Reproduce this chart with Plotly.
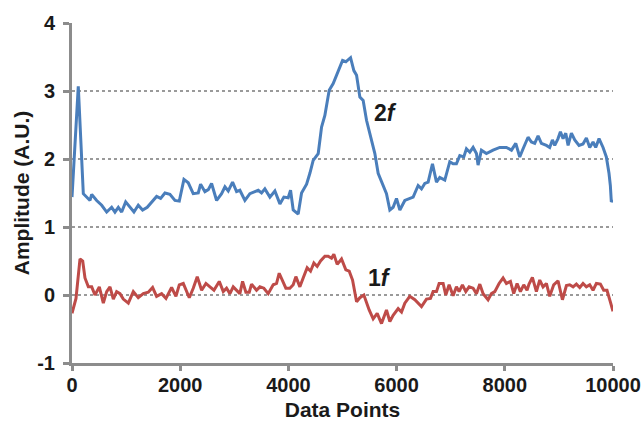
import plotly.graph_objects as go

# 2f signal (blue)
x_2f = [0, 116, 209, 271, 333, 364, 456, 549, 641, 733, 794, 856, 918, 992, 1071, 1145, 1225, 1305,
        1391, 1472, 1564, 1638, 1718, 1810, 1903, 1983, 2069, 2149, 2241, 2334, 2377, 2457, 2519,
        2580, 2673, 2765, 2827, 2888, 2968, 3042, 3103, 3196, 3288, 3381, 3442, 3504, 3565, 3658,
        3750, 3843, 3916, 3996, 4040, 4089, 4138, 4181, 4243, 4336, 4397, 4458, 4551, 4613, 4674,
        4754, 4828, 4890, 4951, 5001, 5062, 5105, 5149, 5210, 5260, 5321, 5382, 5444, 5536, 5598,
        5659, 5751, 5813, 5875, 5936, 5998, 6060, 6152, 6244, 6306, 6398, 6460, 6521, 6583, 6663,
        6737, 6798, 6891, 6983, 7045, 7106, 7168, 7242, 7291, 7353, 7414, 7476, 7506, 7568, 7660,
        7783, 7907, 8030, 8123, 8203, 8276, 8338, 8430, 8492, 8553, 8615, 8676, 8769, 8830, 8880,
        8923, 8984, 9028, 9077, 9127, 9170, 9231, 9293, 9372, 9446, 9508, 9570, 9631, 9680, 9742,
        9816, 9877, 9926, 9951, 9969, 10000]
y_2f = [1.44, 3.07, 1.49, 1.44, 1.39, 1.48, 1.39, 1.32, 1.22, 1.29, 1.22, 1.29, 1.22, 1.37, 1.29, 1.22,
        1.32, 1.25, 1.29, 1.37, 1.45, 1.42, 1.50, 1.48, 1.39, 1.38, 1.70, 1.65, 1.49, 1.50, 1.63,
        1.52, 1.55, 1.64, 1.39, 1.49, 1.59, 1.53, 1.66, 1.52, 1.54, 1.39, 1.49, 1.52, 1.54, 1.50,
        1.56, 1.44, 1.53, 1.34, 1.44, 1.43, 1.54, 1.25, 1.22, 1.19, 1.50, 1.63, 1.79, 1.98, 2.08,
        2.47, 2.64, 3.01, 3.11, 3.23, 3.35, 3.45, 3.43, 3.46, 3.49, 3.30, 3.23, 2.91, 2.86, 2.57,
        2.28, 2.08, 1.79, 1.61, 1.49, 1.25, 1.29, 1.42, 1.25, 1.39, 1.42, 1.44, 1.61, 1.56, 1.64,
        1.66, 1.93, 1.66, 1.73, 1.69, 1.96, 1.93, 1.93, 2.05, 2.03, 2.15, 2.10, 2.17, 2.08, 1.91,
        2.13, 2.08, 2.13, 2.17, 2.17, 2.13, 2.23, 2.03, 2.15, 2.32, 2.25, 2.23, 2.34, 2.23, 2.20,
        2.17, 2.28, 2.20, 2.30, 2.40, 2.30, 2.38, 2.20, 2.38, 2.28, 2.20, 2.22, 2.31, 2.17, 2.25,
        2.17, 2.30, 2.17, 2.03, 1.79, 1.61, 1.37, 1.40]

# 1f signal (red)
x_1f = [0, 74, 148, 198, 240, 302, 364, 425, 505, 579, 641, 702, 764, 825, 887, 948, 1041, 1133, 1225,
        1318, 1410, 1490, 1564, 1657, 1737, 1841, 1921, 1983, 2057, 2168, 2241, 2315, 2396, 2476,
        2550, 2624, 2722, 2796, 2857, 2919, 2980, 3042, 3103, 3153, 3214, 3276, 3319, 3411, 3473,
        3547, 3627, 3719, 3781, 3830, 3892, 3953, 4027, 4089, 4138, 4212, 4273, 4347, 4409, 4471,
        4532, 4594, 4674, 4735, 4797, 4840, 4902, 4982, 5062, 5124, 5186, 5260, 5321, 5395, 5493,
        5567, 5641, 5721, 5813, 5875, 5936, 6029, 6091, 6152, 6244, 6337, 6460, 6552, 6626, 6675,
        6737, 6786, 6860, 6909, 6971, 7045, 7106, 7155, 7217, 7279, 7340, 7414, 7476, 7538, 7599,
        7691, 7753, 7815, 7894, 7968, 8030, 8104, 8165, 8227, 8288, 8350, 8411, 8448, 8510, 8584,
        8646, 8707, 8769, 8830, 8904, 8984, 9065, 9139, 9200, 9262, 9323, 9385, 9446, 9508, 9570,
        9631, 9693, 9767, 9828, 9889, 9951, 10000]
y_1f = [-0.27, -0.05, 0.53, 0.50, 0.25, 0.12, 0.12, 0.00, 0.12, -0.12, 0.05, 0.12, -0.06, 0.05, 0.02,
        -0.06, -0.12, 0.05, -0.04, 0.02, 0.04, 0.11, -0.02, 0.02, -0.05, 0.11, -0.02, 0.15, 0.17,
        -0.04, 0.10, 0.27, 0.07, 0.17, 0.12, 0.07, 0.20, 0.05, 0.10, 0.02, 0.12, 0.07, 0.02, 0.20,
        0.04, 0.04, 0.16, 0.07, 0.12, 0.10, 0.02, 0.15, 0.17, 0.32, 0.22, 0.10, 0.10, 0.15, 0.27,
        0.12, 0.25, 0.40, 0.35, 0.47, 0.42, 0.50, 0.57, 0.57, 0.54, 0.60, 0.45, 0.53, 0.37, 0.35,
        0.22, -0.10, -0.04, 0.00, -0.22, -0.35, -0.27, -0.42, -0.22, -0.39, -0.30, -0.20, -0.25,
        -0.12, -0.02, -0.07, -0.17, -0.06, -0.05, 0.05, 0.05, 0.17, 0.17, 0.00, 0.15, -0.01, 0.12,
        0.05, 0.15, 0.05, 0.12, 0.10, 0.02, 0.16, 0.02, -0.07, 0.02, 0.05, 0.17, 0.25, 0.17, 0.20,
        0.02, 0.17, 0.05, 0.15, 0.07, 0.16, 0.26, 0.05, 0.22, 0.12, 0.17, -0.02, 0.15, 0.21, -0.07,
        0.14, 0.15, 0.12, 0.16, 0.11, 0.17, 0.12, 0.15, 0.07, 0.17, 0.16, 0.07, 0.07, -0.10, -0.24]

x_ticks = [0, 2000, 4000, 6000, 8000, 10000]
y_ticks = [-1, 0, 1, 2, 3, 4]

FONT = "Liberation Sans, Arial, sans-serif"
TXT = "#1a1a1a"
AX = "#8c8c8c"

fig = go.Figure()
fig.add_trace(go.Scatter(x=x_2f, y=y_2f, mode="lines",
                         line=dict(color="#4a7ebb", width=3), showlegend=False))
fig.add_trace(go.Scatter(x=x_1f, y=y_1f, mode="lines",
                         line=dict(color="#be4b48", width=3), showlegend=False))

fig.add_annotation(x=5800, y=2.67, text="2<i>f</i>", showarrow=False,
                   font=dict(family=FONT, size=23, color=TXT, weight="bold"))
fig.add_annotation(x=5690, y=0.25, text="1<i>f</i>", showarrow=False,
                   font=dict(family=FONT, size=23, color=TXT, weight="bold"))

fig.update_layout(
    width=644, height=428,
    margin=dict(l=72, r=31, t=23, b=65, autoexpand=False),
    plot_bgcolor="white", paper_bgcolor="white",
    font=dict(family=FONT, color=TXT),
)
fig.update_xaxes(
    range=[0, 10000], tickvals=x_ticks, ticktext=[str(v) for v in x_ticks],
    showgrid=False, zeroline=False,
    showline=True, linecolor=AX, linewidth=3,
    ticks="outside", ticklen=5, tickwidth=2.5, tickcolor=AX,
    ticklabelstandoff=-3,
    tickfont=dict(family=FONT, size=20, color=TXT, weight="bold"),
    title=dict(text="Data Points", font=dict(family=FONT, size=21, color=TXT, weight="bold"), standoff=8),
)
fig.update_yaxes(
    range=[-1, 4], tickvals=y_ticks, ticktext=[str(v) for v in y_ticks],
    showgrid=True, gridcolor="#9a9a9a", griddash="dot", gridwidth=1.5,
    zeroline=False,
    showline=True, linecolor=AX, linewidth=3,
    ticks="outside", ticklen=6, tickwidth=2.5, tickcolor=AX,
    ticklabelstandoff=4,
    tickfont=dict(family=FONT, size=20, color=TXT, weight="bold"),
    title=dict(text="Amplitude (A.U.)", font=dict(family=FONT, size=21, color=TXT, weight="bold"), standoff=2),
)

fig.write_html("out.html")
